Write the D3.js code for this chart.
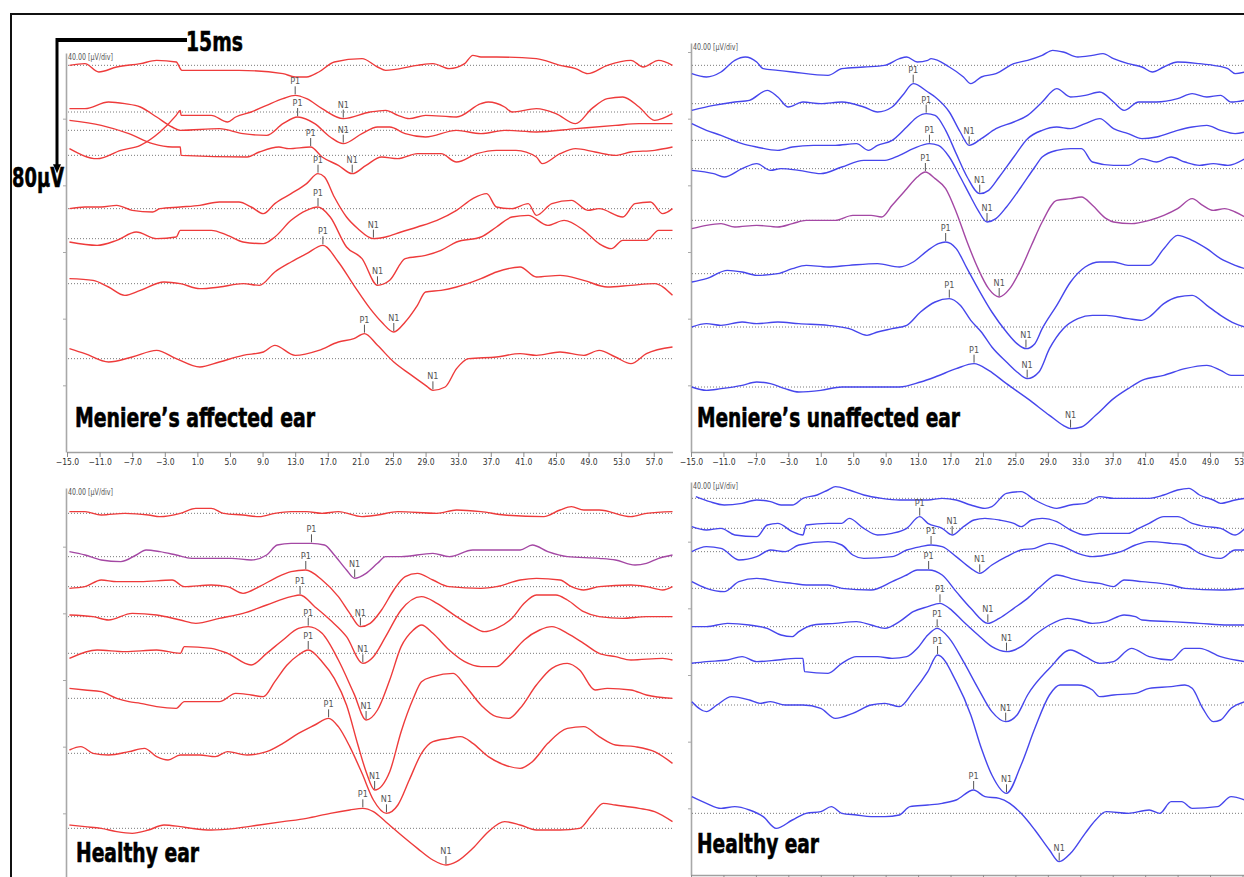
<!DOCTYPE html>
<html>
<head>
<meta charset="utf-8">
<script src="https://cdn.jsdelivr.net/npm/d3@7.9.0/dist/d3.min.js"></script>
<style>
  body { margin: 0; background: #fff; }
  svg { display: block; }
  .narrow { font-family: "Liberation Sans Narrow", "Arial Narrow", "DejaVu Sans Condensed", sans-serif; }
</style>
</head>
<body>
<svg id="chart" width="1244" height="877"></svg>
<script>
// --- DATA: latency (ms) vs amplitude (µV), one array of [ms, µV] per recording ---

const leftTicks = [-15, -11, -7, -3, 1, 5, 9, 13, 17, 21, 25, 29, 33, 37, 41, 45, 49, 53, 57];
const rightTicks = [-15, -11, -7, -3, 1, 5, 9, 13, 17, 21, 25, 29, 33, 37, 41, 45, 49, 53];

// Meniere's affected ear
const affectedOffsets = [232, 204, 193, 178, 146, 128, 101, 56];
const affectedTraces = [
  [[-14.7,0],[-12.8,1],[-11.1,-4],[-8.9,-1],[-6,1],[-4,3],[-1.6,2],[-0.9,-3],[6.1,-3],[11.5,-5],[13,-7],[14.4,-7],[15.9,-4],[17.8,2],[21.2,4],[23.1,-1],[24.1,-3],[28,0],[29.9,1],[31.9,-2],[33.8,1],[34.8,6],[35.8,5],[37.7,5],[42.6,4],[45.5,0],[47.4,-2],[48.9,-5],[51.3,0],[54.2,3],[55.7,-1],[57.6,3],[59.3,0]],
  [[-14.7,-22],[-11.3,-28],[-8.4,-23],[-6,-20],[-3.6,-12],[-1.6,-2],[-1.1,1],[-1,-2],[2.7,-2],[4.7,-6],[5.7,-3],[7.6,0],[9.5,4],[11.5,8],[13,10],[14.4,8],[16.3,2],[18.9,-4],[22.2,0],[24.1,1],[25.6,-2],[27,-4],[29,-2],[32.8,-3],[35.8,5],[36.7,6],[38.7,3],[39.6,0],[42.6,2],[45,-1],[47.4,-7],[49.4,2],[51.3,8],[53.2,9],[55.2,3],[57.1,-5],[59.3,-1]],
  [[-14.7,13],[-12.8,13],[-9.9,17],[-7.9,16],[-6,14],[-4,8],[-2.1,2],[-1.1,0],[3.7,1],[6.6,-2],[9.5,-3],[11.5,4],[13.3,8],[15.4,4],[17.3,-4],[18.9,-8],[21.2,-2],[23.1,2],[24.6,2],[26.5,-2],[29,-4],[32.8,0],[35.8,-2],[38.7,0],[42.6,-1],[47.4,1],[52.3,3],[55.2,4],[59.3,4]],
  [[-14.7,21],[-10.8,18],[-7.4,13],[-4.5,7],[-2.1,5],[-1.1,5],[-1,0],[7.1,-1],[8.6,2],[11,5],[12.2,4],[14.9,5],[16.3,-1],[18.3,-6],[20,-11],[21.7,-6],[23.6,-1],[25.6,-2],[28,1],[30.9,1],[32.8,-4],[35.3,1],[37.7,3],[40.1,3],[42.6,-1],[43.3,-5],[45.5,1],[47.4,4],[49.8,2],[52.3,0],[54.2,2],[57.1,3],[59.3,5]],
  [[-14.7,0],[-12.8,1],[-10.8,1],[-8.9,2],[-7,-1],[-4.5,-2],[-3.6,0],[-1.1,1],[1.3,2],[3.7,4],[6.1,4],[7.6,1],[9.1,-3],[10.5,3],[12.5,9],[14.4,15],[15.8,21],[16.6,19],[17.8,7],[19.3,-5],[20.7,-12],[22.6,-18],[24.1,-17],[26,-14],[28,-11],[30.4,-7],[32.8,-1],[34.8,6],[36.5,9],[37.7,1],[39.6,0],[41.6,3],[42.6,-4],[44.5,3],[46.9,5],[48.9,-1],[50.3,0],[53.2,-5],[54.7,3],[56.6,4],[58.1,-3],[59.3,0]],
  [[-14.7,-2],[-11.3,-4],[-8.9,-1],[-6.5,4],[-4,0],[-1.6,1],[-1.1,5],[2.7,5],[4.7,2],[6.6,-2],[9.1,-3],[10.5,1],[12.5,11],[14.4,17],[15.8,19],[17.3,13],[19.3,-5],[21.2,-12],[23.1,-28],[24.6,-25],[26.5,-12],[29,-10],[30.9,-7],[32.8,-2],[35.8,1],[37.7,7],[39.6,13],[41.6,14],[44,8],[46,11],[48.4,5],[50.3,-3],[51.8,-6],[53.2,-1],[56.1,-1],[57.6,5],[59.3,5]],
  [[-14.7,3],[-11.8,2],[-9.9,-2],[-7.9,-7],[-6,-4],[-3.1,1],[-1.1,0],[1.3,-3],[3.7,-2],[6.6,0],[8.6,-1],[10.5,7],[12.5,13],[14.4,18],[16.4,23],[18.3,13],[20.2,-1],[22.2,-15],[23.6,-23],[25.1,-29],[26.5,-23],[28,-13],[29,-5],[30.9,-4],[32.8,-2],[35.8,3],[37.7,7],[40.6,10],[42.6,4],[45.5,5],[48.4,2],[51.3,-2],[54.2,-1],[57.1,0],[59.3,-7]],
  [[-14.7,6],[-12.8,3],[-9.9,-2],[-7,1],[-4,5],[-1.6,0],[1.3,-5],[3.7,-2],[6.6,2],[9.1,4],[10.5,8],[13,2],[15.9,5],[18.3,10],[20.2,12],[21.5,15],[23.1,8],[25.1,-2],[27,-9],[29,-16],[29.9,-19],[31.4,-17],[32.8,-6],[34.3,0],[37.7,1],[40.6,3],[42.6,2],[45.5,4],[48.4,2],[50.3,5],[52.3,1],[54.2,-3],[56.1,3],[59.3,7]]
];
const affectedP1 = [null, 13, 13.3, 14.9, 15.8, 15.8, 16.4, 21.5];
const affectedN1 = [null, 18.9, 18.9, 20, 22.6, 23.1, 25.1, 29.9];

// Meniere's unaffected ear
const unaffectedOffsets = [232, 209, 187, 170, 139, 107, 75, 39];
const unaffectedTraces = [
  [[-14.9,-5],[-13.1,-7],[-11.3,-4],[-9.6,3],[-8.3,5],[-6.9,2],[-6.1,-2],[-4.3,-3],[-2.5,-4],[1.9,-6],[3.6,-2],[6.3,-1],[8.9,0],[10.7,4],[11.6,5],[12.9,2],[14.2,3],[14.6,4],[16.85,-1],[18.6,-7],[19.5,-11],[20.8,-7],[22.6,-5],[24.8,1],[26.5,3],[28.3,6],[29.6,9],[30.9,8],[32.7,5],[34.5,6],[35.8,7],[37.1,4],[38.9,1],[40.6,-1],[41.9,-4],[43.3,-1],[45,2],[47.7,1],[49.4,0],[51.2,-2],[52.1,-5],[53.3,-4]],
  [[-14.9,-4],[-12.2,-1],[-9.6,1],[-7.8,2],[-5.6,8],[-4.3,4],[-3,-2],[-1.2,1],[1,0],[3.6,1],[6.3,-2],[8,-5],[9.8,-2],[11.1,5],[12.4,12],[14.2,7],[15.1,4],[16.85,-5],[18.2,-17],[19.3,-25],[20.8,-21],[22.6,-15],[24.8,-11],[26.5,-7],[28.3,1],[30.1,9],[31.8,4],[33.6,5],[35.4,7],[37.1,1],[38.4,-4],[40.2,1],[42.4,1],[45,3],[46.8,6],[48.6,4],[50.3,5],[51.6,1],[53.3,2]],
  [[-14.9,10],[-13.1,6],[-11.3,3],[-8.7,-2],[-6.9,-4],[-4.3,-6],[-2.5,-4],[0.1,-3],[2.8,-3],[5.4,-2],[6.9,-6],[8,-3],[9.8,0],[11.6,8],[12.9,14],[14,16],[15.1,15],[16.4,6],[17.7,-8],[19.05,-22],[20.6,-32],[21.7,-30],[23,-22],[24.8,-10],[26.5,1],[28.3,6],[30.1,8],[31.8,7],[33.6,10],[35.4,13],[37.1,7],[38.9,4],[40.6,1],[42.4,2],[45,6],[46.8,8],[48.6,9],[50.3,6],[52.1,4],[53.3,5]],
  [[-14.9,-1],[-12.2,-3],[-10.9,-5],[-8.7,0],[-6.9,3],[-5.2,-1],[-3.9,0],[-1.7,-1],[1,-3],[3.6,1],[6.3,5],[8.9,5],[10.7,8],[12.4,12],[14.4,15],[15.5,14],[16.85,7],[18.2,-5],[19.5,-17],[20.4,-25],[21.5,-32],[22.6,-30],[23.9,-23],[25.7,-11],[27.4,1],[28.3,7],[30.1,11],[31.8,12],[33.15,12],[34.5,4],[37.1,2],[38.9,2],[40.6,6],[42.4,4],[44.2,7],[45.9,4],[47.7,2],[49.4,3],[51.2,2],[53.3,6]],
  [[-14.9,-5],[-13.1,-3],[-11.3,-2],[-9.6,-4],[-6.9,-3],[-4.3,-4],[-2.5,-2],[-0.8,0],[2.8,0],[4.95,3],[7.2,3],[8.5,2],[9.8,9],[11.6,19],[12.9,26],[13.9,29],[15.1,25],[16.4,19],[17.7,5],[19.05,-13],[20.4,-29],[21.7,-41],[23,-46],[24.3,-41],[25.7,-29],[26.98,-15],[28.3,-1],[30.1,12],[31.8,13],[33.15,14],[34.5,9],[36.2,1],[37.1,-1],[39.3,-2],[41.5,0],[43.3,3],[45,7],[46.8,13],[48.1,9],[49.4,6],[50.8,7],[52.1,5],[53.3,2]],
  [[-14.9,-5],[-13.1,-3],[-10.5,2],[-8.7,1],[-6.9,-1],[-4.3,0],[-2.5,3],[-0.8,5],[1.9,4],[4.5,5],[8,6],[10.7,4],[12.4,7],[14.2,14],[15.5,18],[16.4,19],[17.7,15],[19.05,3],[20.4,-9],[22.1,-23],[23.9,-35],[25.2,-42],[26.3,-45],[27.4,-42],[28.3,-33],[30.1,-19],[31.8,-5],[33.6,4],[35.4,7],[37.1,7],[38.9,5],[41.5,5],[43.3,15],[45,23],[46.8,20],[48.6,15],[50.3,9],[52.1,5],[53.3,3]],
  [[-14.9,0],[-13.1,2],[-11.3,1],[-8.7,3],[-6.9,2],[-4.3,3],[-1.7,2],[1.9,1],[4.5,-1],[6.7,-5],[8,-3],[9.8,-1],[11.6,1],[13.3,9],[15.1,15],[16.85,17],[18.2,13],[19.5,4],[20.8,-3],[22.1,-12],[23.9,-21],[25.2,-27],[26.45,-31],[27.9,-27],[29.2,-13],[30.9,-1],[32.7,5],[34.5,7],[36.2,7],[38.9,5],[40.6,4],[41.5,6],[43.3,14],[45,18],[46.8,19],[48.6,13],[50.3,7],[52.1,2],[53.3,0]],
  [[-14.9,0],[-13.1,-2],[-11.3,-1],[-8.7,1],[-6.9,3],[-5.2,2],[-3.4,-1],[-1.7,-3],[1,-2],[3.6,0],[7.2,0],[10.7,0],[13.3,3],[15.1,6],[17.7,11],[19.9,14],[21.7,10],[23.9,2],[26.5,-7],[29.2,-17],[30.9,-23],[31.8,-25],[33.15,-24],[34.9,-17],[37.1,-7],[38.9,-1],[40.6,4],[43.3,7],[45.9,11],[48.6,13],[50.3,10],[51.6,7],[53.3,7]]
];
const unaffectedP1 = [null, 12.4, 14, 14.4, 13.9, 16.4, 16.85, 19.9];
const unaffectedN1 = [null, 19.3, 20.6, 21.5, 23, 26.3, 26.45, 31.8];

// Healthy ear (left)
const healthyLOffsets = [220, 194, 176, 158, 136, 109, 76, 31];
const healthyLTraces = [
  [[-14.7,1],[-12.8,1],[-10.8,-1],[-7.9,0],[-5,-1],[-3.6,-2],[-1.1,0],[0.8,3],[2.7,3],[4.2,0],[6.6,-1],[8.6,-2],[10.5,0],[12.5,1],[14.4,1],[16.3,0],[18.3,1],[21.2,-2],[23.1,-1],[25.6,1],[30.4,0],[32.8,2],[35.8,1],[38.7,-1],[43.5,-2],[45.5,2],[46.9,4],[48.4,2],[50.3,2],[54.2,-2],[56.1,0],[59.3,1]],
  [[-14.7,3],[-12.8,1],[-10.8,-2],[-8.4,-3],[-6.5,1],[-5.3,4],[-3.6,3],[-1.6,1],[0.3,-1],[2.7,-1],[5.2,-1],[7.6,-2],[9.5,1],[10.8,7],[12.5,8],[15,8],[16.6,7],[17.8,1],[19.3,-8],[20.3,-13],[21.7,-10],[23.1,-4],[24.1,0],[26,0],[29.9,2],[31.9,0],[34.8,4],[37.7,4],[40.6,4],[42.1,7],[44,3],[46.4,0],[50.3,-1],[52.3,-2],[54.7,-5],[56.1,-4],[57.6,-1],[59.3,1]],
  [[-14.7,-1],[-12.8,0],[-10.8,4],[-8.9,3],[-6,3],[-2.1,4],[-0.6,0],[2.7,1],[4.7,0],[6.6,-4],[8.6,0],[10.5,5],[12.5,9],[14.3,10],[16.3,4],[18.3,-6],[19.7,-16],[21,-24],[22.2,-22],[23.6,-14],[25.1,-2],[26.5,6],[28,8],[29.9,4],[31.9,0],[35.8,-1],[37.7,0],[40.6,4],[42.6,5],[45.5,4],[46.9,0],[48.4,-2],[50.3,0],[54.2,1],[56.1,0],[58.1,-2],[59.3,0]],
  [[-14.7,1],[-11.8,0],[-9.9,-2],[-7,2],[-4,1],[-1.1,-2],[0.8,-4],[3.7,-1],[6.6,2],[9.5,7],[12.5,12],[13.6,13],[15.4,6],[17.3,-2],[19.3,-12],[21.3,-28],[22.6,-24],[24.1,-12],[26,4],[28.5,12],[30.4,8],[32.8,0],[34.8,-6],[36.2,-9],[37.7,-7],[39.6,-1],[41.1,8],[42.6,13],[45,13],[46.4,10],[48.4,3],[50.3,0],[53.2,-1],[56.1,0],[59.3,0]],
  [[-14.7,-3],[-11.3,2],[-7.9,1],[-4,2],[-1.1,0],[-0.6,4],[2.7,3],[4.7,0],[7.6,-7],[9.5,0],[11.5,8],[13.4,15],[14.6,16],[16.3,12],[18.3,-4],[20.2,-24],[21.7,-40],[23.1,-34],[24.6,-16],[26,4],[27.5,14],[28.5,17],[29.9,12],[31.9,2],[33.8,-5],[35.8,-8],[37.7,-8],[39.2,-2],[41.1,8],[43,14],[44.5,16],[46.4,12],[48.4,6],[50.3,0],[52.3,-2],[54.2,-4],[58.1,-3],[59.3,-4]],
  [[-14.7,6],[-12.8,5],[-10.8,4],[-8.9,0],[-7.4,-2],[-6,-3],[-4,-5],[-1.6,-6],[-0.6,-2],[3.7,-2],[5.7,3],[7.6,2],[9.1,1],[10.5,10],[12,20],[13.4,26],[14.6,29],[16.3,22],[17.8,12],[19.3,-4],[20.7,-28],[21.7,-44],[22.75,-55],[24.6,-44],[26,-20],[27.5,0],[28.5,10],[29.9,13],[32.4,15],[33.8,8],[35.8,-4],[37.7,-11],[39.2,-12],[40.6,-6],[42.6,8],[44.5,18],[46.4,21],[47.9,17],[49.8,5],[51.3,6],[54.2,5],[56.1,2],[59.3,0]],
  [[-14.7,2],[-13.3,4],[-11.8,0],[-9.9,-1],[-7.4,1],[-5.5,3],[-4,-2],[-2.6,-4],[-1.1,-1],[1.3,-1],[3.2,-2],[4.7,1],[7.1,-1],[9.5,1],[11.5,6],[13.4,12],[15.4,17],[17.1,21],[18.3,16],[19.7,4],[21.2,-12],[22.6,-28],[24.2,-36],[25.6,-31],[27,-16],[28.5,0],[29.9,7],[31.9,9],[33.3,10],[34.8,6],[36.7,-2],[38.7,-7],[40.6,-9],[42.1,-5],[44,6],[46.4,15],[48.4,16],[50.3,10],[52.3,5],[54.7,4],[57.1,1],[59.3,-6]],
  [[-14.7,2],[-12.8,1],[-10.8,0],[-8.9,-2],[-7,-3],[-5,-1],[-3.1,2],[-1.1,1],[0.3,0],[2.7,-1],[5.7,0],[8.6,2],[11.5,4],[14.4,6],[17.3,9],[19.7,11],[21.3,12],[22.6,10],[24.1,4],[26,-4],[28,-12],[29.9,-19],[31.5,-22],[32.8,-20],[34.8,-12],[36.7,-2],[38.7,4],[40.6,2],[42.6,-1],[45.5,-1],[47.9,0],[49.4,8],[50.8,15],[52.3,14],[55.2,12],[57.1,10],[59.3,4]]
];
const healthyLP1 = [null, 15, 14.3, 13.6, 14.6, 14.6, 17.1, 21.3];
const healthyLN1 = [null, 20.3, 21, 21.3, 21.7, 22.75, 24.2, 31.5];

// Healthy ear (right)
const healthyROffsets = [226, 208, 194, 172, 149, 127, 102, 37];
const healthyRTraces = [
  [[-14.4,1],[-12.7,-2],[-10.9,-4],[-8.7,-3],[-6.9,-1],[-5.2,-2],[-3.9,-4],[-2.5,-4],[-1.2,0],[0.55,2],[1.9,5],[2.8,7],[4.5,5],[6.3,2],[8.5,0],[10.7,-1],[12.4,-1],[14.2,-1],[15.97,0],[17.7,-1],[19.5,-4],[21.25,-6],[22.1,-5],[23.9,3],[25.7,4],[27.4,-1],[29.2,-5],[30.1,-6],[31.8,-4],[33.6,-3],[35.4,1],[37.1,0],[41.5,0],[43.3,2],[45,5],[46.4,6],[47.7,2],[49.4,-1],[50.3,-3],[52.1,-1],[53.3,0]],
  [[-14.9,1],[-13.1,-1],[-11.3,0],[-9.6,-4],[-6.9,-5],[-5.6,2],[-4.3,3],[-2.5,-2],[-1.2,-4],[-0.8,2],[1.9,3],[3.6,3],[4.5,6],[6.3,0],[8,-4],[9.8,-3],[11.6,0],[13.2,7],[14.2,3],[15.97,0],[17.2,-4],[18.6,1],[19.9,5],[21.25,6],[23,5],[24.8,3],[25.7,1],[27,5],[28.3,6],[30.1,4],[31.8,-1],[33.6,-4],[35.4,-3],[38.9,-3],[40.2,0],[41.5,3],[43.3,7],[45,7],[46.8,3],[48.6,1],[50.3,0],[52.1,-4],[53.3,0]],
  [[-14.9,0],[-13.1,3],[-11.3,2],[-9.1,-5],[-6.9,-3],[-5.2,1],[-3.4,0],[-1.7,4],[1.9,6],[3.6,4],[4.95,-2],[6.3,-4],[9.8,-3],[11.6,1],[13.3,3],[14.6,4],[15.97,3],[17.7,-3],[19.5,-10],[20.6,-13],[22.1,-8],[23.9,-3],[25.7,1],[27.4,2],[29.2,5],[30.9,3],[32.7,-1],[34.5,-3],[36.2,-2],[38,0],[39.8,4],[41.5,6],[44.2,5],[45.9,4],[47.7,-1],[50.3,-4],[52.1,1],[53.3,1]],
  [[-14.9,4],[-13.1,0],[-10.9,-2],[-9.1,4],[-6.9,6],[-4.3,4],[-2.5,3],[-0.8,2],[1.9,2],[3.6,0],[7.2,-1],[9.8,4],[11.6,8],[12.9,11],[14.3,11],[15.97,8],[17.7,-2],[19.5,-12],[21.6,-21],[23,-18],[24.8,-12],[26.5,-6],[28.3,2],[30.1,8],[31.8,6],[33.6,4],[35.4,3],[37.1,1],[38.4,5],[40.6,4],[44.2,2],[45.9,0],[50.3,-1],[53.3,0]],
  [[-14.9,0],[-13.1,0],[-10.5,2],[-7.8,1],[-5.6,-1],[-3.9,-5],[-2.5,-6],[-1.7,-3],[0.1,1],[2.8,2],[5.4,3],[7.2,1],[8.9,-1],[10.7,3],[12.4,9],[14.2,12],[15.7,14],[16.85,11],[18.6,3],[20.4,-5],[22.1,-12],[23.9,-15],[25.7,-12],[27.4,-5],[29.2,1],[31.4,5],[32.7,4],[34.5,2],[36.2,3],[38.4,7],[39.8,6],[40.6,4],[44.2,3],[47.7,2],[51.2,1],[53.3,1]],
  [[-14.9,0],[-13.1,1],[-10.5,2],[-8.7,4],[-6.9,1],[-4.3,2],[-2.1,3],[-1.2,3],[-1,-5],[1.9,-6],[3.6,0],[5.4,4],[8,4],[9.8,3],[11.6,4],[12.9,9],[14.2,17],[15.35,21],[16.85,15],[18.6,1],[20.4,-15],[22.1,-29],[23.8,-35],[25.2,-31],[26.5,-19],[29.2,-3],[31.8,8],[33.6,4],[35.4,0],[37.1,1],[39.3,9],[41.5,4],[44.2,2],[45.9,9],[47.7,9],[50.3,4],[53.3,1]],
  [[-14.9,2],[-13.1,-4],[-11.8,0],[-10,5],[-7.8,3],[-6.5,1],[-5.2,2],[-3.4,0],[-1.2,0],[1,-2],[2.8,-8],[4.95,-5],[7.2,0],[8.9,1],[10.7,-1],[12.4,8],[14.2,20],[15.4,30],[17.7,14],[19.5,-6],[20.8,-26],[22.1,-42],[23.9,-53],[25.7,-36],[27.4,-14],[29.2,6],[30.5,12],[32.7,12],[34.5,9],[35.4,5],[37.1,6],[39.8,7],[41.5,10],[44.2,11],[45.9,12],[46.8,10],[48.1,-2],[49.4,-10],[50.3,-9],[51.6,-2],[53.3,2]],
  [[-14.9,10],[-13.1,6],[-11.3,3],[-9.6,4],[-7.8,2],[-6.1,-2],[-4.5,-9],[-2.5,-4],[-0.8,0],[1,1],[2.3,4],[3.6,0],[5.4,-1],[7.2,-2],[8.9,-2],[10.7,-1],[12,4],[14.2,5],[15.97,6],[17.7,8],[19.85,14],[21.25,10],[23,9],[24.3,6],[25.7,0],[27.4,-10],[29.2,-22],[30.4,-29],[31.8,-24],[33.6,-12],[34.9,-4],[36.2,1],[38.9,0],[41.5,2],[42.8,0],[44.2,7],[45.5,7],[46.8,3],[49.9,4],[51.6,10],[53.3,8]]
];
const healthyRP1 = [null, 13.2, 14.6, 14.3, 15.7, 15.35, 15.4, 19.85];
const healthyRN1 = [null, 17.2, 20.6, 21.6, 23.9, 23.8, 23.9, 30.4];

// --- LAYOUT / STYLE ---
const UV_PER_PX = 0.6;          // display gain
const RED = "#ee3b3b", BLUE = "#4646ec", PURPLE = "#a448a4";
const svg = d3.select("#chart");

const panels = [
  { title: "Meniere\u2019s affected ear", tx: 75, ty: 427, tw: 240,
    traces: affectedTraces, offsets: affectedOffsets, p1: affectedP1, n1: affectedN1,
    xDomain: [-15, 59.3], xRange: [67, 672.5], yAxisX: 66, axisY: 452, top: 53,
    color: RED, alt: -1, ticks: leftTicks, xAxis: true, tickLabels: true },
  { title: "Meniere\u2019s unaffected ear", tx: 697, ty: 427, tw: 263,
    traces: unaffectedTraces, offsets: unaffectedOffsets, p1: unaffectedP1, n1: unaffectedN1,
    xDomain: [-15, 54], xRange: [691, 1250.6], yAxisX: 691, axisY: 452, top: 43,
    color: BLUE, alt: 4, ticks: rightTicks, xAxis: true, tickLabels: true },
  { title: "Healthy ear", tx: 76, ty: 862, tw: 123,
    traces: healthyLTraces, offsets: healthyLOffsets, p1: healthyLP1, n1: healthyLN1,
    xDomain: [-15, 59.3], xRange: [67, 672.5], yAxisX: 66, axisY: 880, top: 488,
    color: RED, alt: 1, ticks: leftTicks, xAxis: false, tickLabels: false },
  { title: "Healthy ear", tx: 697, ty: 853, tw: 122,
    traces: healthyRTraces, offsets: healthyROffsets, p1: healthyRP1, n1: healthyRN1,
    xDomain: [-15, 54], xRange: [691, 1250.6], yAxisX: 691, axisY: 875, top: 482,
    color: BLUE, alt: -1, ticks: rightTicks, xAxis: true, tickLabels: false }
];

function valueAt(tr, t) {
  for (let i = 0; i < tr.length - 1; i++) {
    const [t0, v0] = tr[i], [t1, v1] = tr[i + 1];
    if (t >= t0 && t <= t1) return v0 + (v1 - v0) * (t - t0) / (t1 - t0);
  }
  return tr[tr.length - 1][1];
}

// outer frame
svg.append("rect").attr("x", 11).attr("y", 14).attr("width", 1250).attr("height", 880)
  .attr("fill", "none").attr("stroke", "#111").attr("stroke-width", 2);

panels.forEach(p => {
  const x = d3.scaleLinear().domain(p.xDomain).range(p.xRange);
  const y = d3.scaleLinear().domain([0, (p.axisY - p.top) * UV_PER_PX]).range([p.axisY, p.top]);
  const g = svg.append("g");

  // vertical axis
  const ya = g.append("g").attr("transform", `translate(${p.yAxisX},0)`)
    .call(d3.axisLeft(y).tickValues(d3.range(40, y.domain()[1], 40)).tickSize(3).tickSizeOuter(0).tickFormat(""));
  ya.select(".domain").attr("stroke", "#a8a8a8").attr("stroke-width", 1.6);
  ya.selectAll(".tick line").attr("stroke", "#a8a8a8");

  // horizontal axis
  if (p.xAxis) {
    const xa = g.append("g").attr("transform", `translate(0,${p.axisY})`)
      .call(d3.axisBottom(x).tickValues(p.ticks).tickSize(5).tickSizeOuter(0).tickPadding(2)
        .tickFormat(p.tickLabels ? d3.format(".1f") : ""));
    xa.select(".domain").attr("stroke", "#a0a0a0").attr("stroke-width", 1.6);
    xa.selectAll(".tick line").attr("stroke", "#8c8c8c");
    xa.selectAll("text").attr("class", "narrow").attr("font-size", 8.5).attr("fill", "#333");
  }

  // gain label
  g.append("text").attr("class", "narrow")
    .attr("x", p.yAxisX + 2).attr("y", p.top + 7)
    .attr("font-size", 8).attr("fill", "#555")
    .attr("textLength", 45).attr("lengthAdjust", "spacingAndGlyphs")
    .text("40.00 [\u00b5V/div]");

  // dotted baselines
  g.selectAll("line.base").data(p.offsets).join("line").attr("class", "base")
    .attr("x1", p.xRange[0] + 1).attr("x2", p.xRange[1])
    .attr("y1", d => y(d)).attr("y2", d => y(d))
    .attr("stroke", "#7a7a7a").attr("stroke-width", 1).attr("stroke-dasharray", "1,2");

  // traces
  const lineFor = off => d3.line()
    .x(d => x(d[0])).y(d => y(off + d[1]))
    .curve(d3.curveMonotoneX);
  g.selectAll("path.trace").data(p.traces).join("path").attr("class", "trace")
    .attr("d", (tr, i) => lineFor(p.offsets[i])(tr))
    .attr("fill", "none")
    .attr("stroke", (tr, i) => i === p.alt ? PURPLE : p.color)
    .attr("stroke-width", 1.4).attr("stroke-linejoin", "round");

  // P1 / N1 markers
  const marks = [];
  p.traces.forEach((tr, i) => {
    [["P1", p.p1[i]], ["N1", p.n1[i]]].forEach(([lab, t]) => {
      if (t == null) return;
      marks.push({ lab, t, v: p.offsets[i] + valueAt(tr, t) });
    });
  });
  const mg = g.selectAll("g.mark").data(marks).join("g").attr("class", "mark")
    .attr("transform", d => `translate(${x(d.t)},${y(d.v)})`);
  mg.append("line").attr("y1", -1).attr("y2", -9).attr("stroke", "#555").attr("stroke-width", 1);
  mg.append("text").attr("class", "narrow").attr("y", -11).attr("text-anchor", "middle")
    .attr("font-size", 9).attr("fill", "#555").text(d => d.lab);

  // panel title
  g.append("text").attr("class", "narrow")
    .attr("x", p.tx).attr("y", p.ty)
    .attr("font-size", 27).attr("font-weight", "bold").attr("fill", "#000")
    .attr("stroke", "#000").attr("stroke-width", 0.6)
    .attr("textLength", p.tw).attr("lengthAdjust", "spacingAndGlyphs")
    .text(p.title);
});

// calibration bar (80 µV vertical, 15 ms horizontal)
const calY = d3.scaleLinear().domain([0, 80]).range([40, 40 + 80 / UV_PER_PX]);
const cal = svg.append("g");
cal.append("line").attr("x1", 57).attr("x2", 187).attr("y1", 40).attr("y2", 40)
  .attr("stroke", "#000").attr("stroke-width", 4);
cal.append("line").attr("x1", 57).attr("x2", 57).attr("y1", 38).attr("y2", calY(80) - 7)
  .attr("stroke", "#000").attr("stroke-width", 3);
cal.append("path")
  .attr("d", `M${57 - 4},${calY(80) - 9}L${57 + 4},${calY(80) - 9}L57,${calY(80)}Z`)
  .attr("fill", "#000");
cal.append("text").attr("class", "narrow").attr("x", 186).attr("y", 51)
  .attr("font-size", 27).attr("font-weight", "bold").attr("stroke", "#000").attr("stroke-width", 0.5)
  .attr("textLength", 57).attr("lengthAdjust", "spacingAndGlyphs").text("15ms");
cal.append("text").attr("class", "narrow").attr("x", 12).attr("y", 187)
  .attr("font-size", 27).attr("font-weight", "bold").attr("stroke", "#000").attr("stroke-width", 0.5)
  .attr("textLength", 52).attr("lengthAdjust", "spacingAndGlyphs").text("80\u00b5V");
</script>
</body>
</html>
